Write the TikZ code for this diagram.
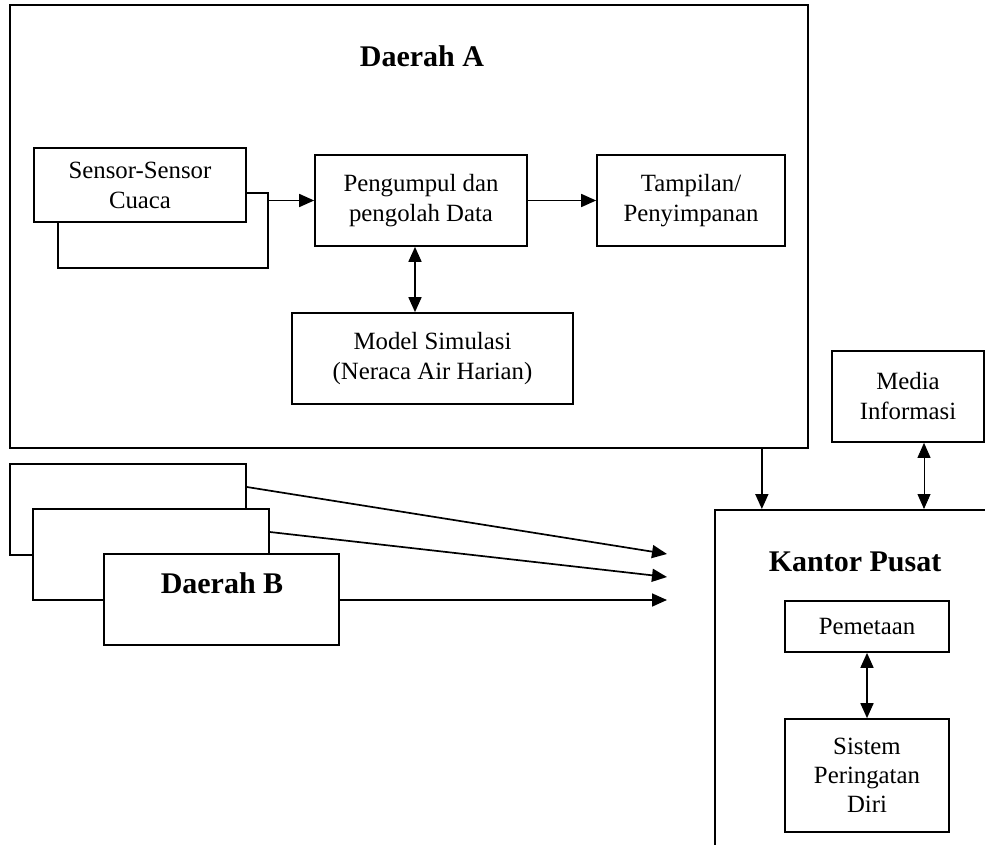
\documentclass[tikz,border=0pt]{standalone}
\usepackage{fontspec}
\setmainfont{Liberation Serif}
\usetikzlibrary{arrows.meta}
\newcommand\mkreg{\fontsize{24.8}{30}\selectfont}
\newcommand\mktitle{\fontsize{30}{36}\selectfont\bfseries}
\begin{document}
\begin{tikzpicture}[x=1pt,y=-1pt,line width=1.7pt,
  box/.style={draw,rectangle,inner sep=0pt,align=center,font=\mkreg,fill=white},
  ttl/.style={inner sep=0pt,font=\mktitle},
  arr/.style={-{Triangle[length=15pt,width=13pt]}},
  darr/.style={{Triangle[length=15pt,width=13pt]}-{Triangle[length=15pt,width=13pt]}}]
\useasboundingbox (0,0) rectangle (985,845);
\clip (0,0) rectangle (985,845);

% Daerah A
\node[box,minimum width=798pt,minimum height=443pt] (dA) at (409,226.5) {};
\node[ttl] (tA) at (422,56) {Daerah A};
\node[box,minimum width=210pt,minimum height=75pt] (sensback) at (163,230.5) {};
\node[box,minimum width=212pt,minimum height=74pt] (sens) at (140,185) {Sensor-Sensor\\Cuaca};
\node[box,minimum width=212pt,minimum height=91pt] (peng) at (421,200.5) {Pengumpul dan\\pengolah Data};
\node[box,minimum width=188pt,minimum height=91pt] (tamp) at (691,200.5) {Tampilan/\\Penyimpanan};
\node[box,minimum width=281pt,minimum height=91pt] (model) at (432.5,358.5) {Model Simulasi\\(Neraca Air Harian)};
\draw[arr] (sensback.east |- peng.west) -- (peng.west);
\draw[arr] (peng.east) -- (tamp.west);
\draw[darr] ([xshift=-6pt]peng.south) -- ([xshift=-6pt]peng.south |- model.north);

% Daerah B
\node[box,minimum width=236pt,minimum height=91pt] (b1) at (128,509.5) {};
\node[box,minimum width=236pt,minimum height=91pt] (b2) at (151,554.5) {};
\node[box,minimum width=235pt,minimum height=91pt] (b3) at (221.5,599.5) {};
\node[ttl] (tB) at (222,583) {Daerah B};
\coordinate (e1) at (667,554);
\coordinate (e2) at (667,577);
\coordinate (e3) at (667,600);
\draw[arr] ([yshift=22.5pt]b1.east) -- (e1);
\draw[arr] ([yshift=22.5pt]b2.east) -- (e2);
\draw[arr] (b3.east |- e3) -- (e3);

% Kantor Pusat
\node[draw,rectangle,inner sep=0pt,anchor=north west,minimum width=320pt,minimum height=400pt] (kantor) at (714,509) {};
\node[ttl] (tK) at (855,562) {Kantor Pusat};
\node[box,minimum width=152pt,minimum height=91pt] (media) at (908,396.5) {Media\\Informasi};
\node[box,minimum width=164pt,minimum height=51pt] (pem) at (867,626.5) {Pemetaan};
\node[box,minimum width=164pt,minimum height=113pt,font=\fontsize{24.8}{29}\selectfont] (sis) at (867,775.5) {Sistem\\Peringatan\\Diri};
\draw[arr] ([xshift=-47pt]dA.south east) -- ([xshift=-47pt]dA.south east |- kantor.north);
\draw[darr,line width=0.9pt] ([xshift=16pt]media.south) -- ([xshift=16pt]media.south |- kantor.north);
\draw[darr] (pem.south) -- (sis.north);
\end{tikzpicture}
\end{document}
